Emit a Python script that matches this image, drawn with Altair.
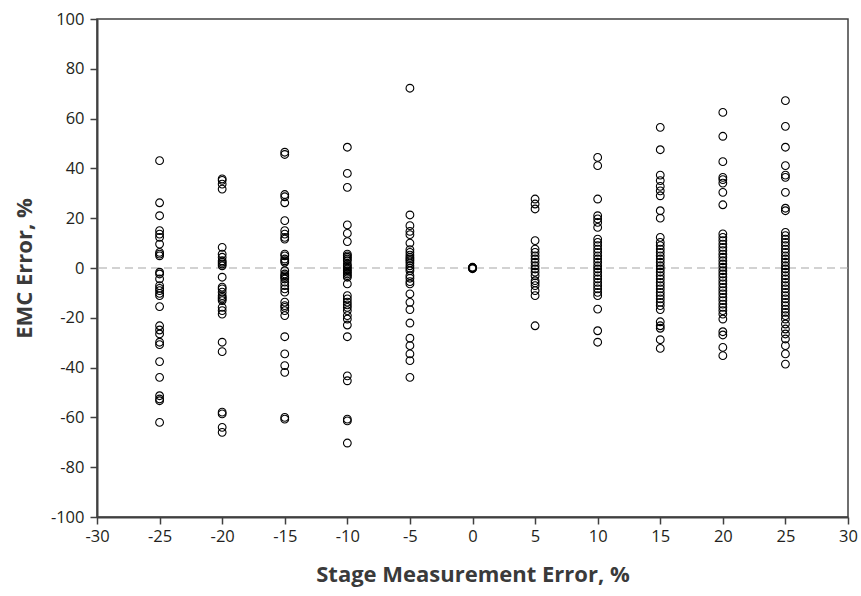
import altair as alt
import pandas as pd

stage_levels = [-25, -20, -15, -10, -5, 0, 5, 10, 15, 20, 25]

emc_m25 = [43.1, 26.2, 21, 15, 13.6, 12.3, 9.6, 6.3, 5.6, 4.9, -1.7, -2.4, -4.4, -7.1, -8.2,
           -9.1, -10.2, -11.1, -15.5, -23.2, -24.9, -26.5, -29.8, -30.8, -37.6, -43.9,
           -51.3, -52.6, -53.3, -62]
emc_m20 = [35.8, 35.2, 33.7, 31.7, 8.3, 5.6, 4.3, 2.9, 2.3, 1.6, 0.9, -3.7, -7.7, -8.4, -9.7,
           -11.1, -11.8, -12.4, -13.1, -15.8, -17.1, -18.5, -29.8, -33.6, -57.9, -58.6, -64, -66]
emc_m15 = [46.5, 45.6, 29.5, 28.6, 26.2, 19, 15, 13.6, 12.3, 11.6, 5.6, 4.9, 3.6, 2.9, 2.3,
           -1.1, -2.4, -3.1, -3.7, -4.4, -5.7, -7.1, -8.4, -9.7, -13.7, -15.1, -15.8, -17.1,
           -19.1, -27.6, -34.5, -39.2, -41.9, -60, -60.7]
emc_m10 = [48.5, 38, 32.4, 17.3, 13.9, 10.6, 5.6, 4.9, 4.3, 3.6, 2.9, 1.6, 0.9, 0.3, -0.4,
           -1.1, -1.7, -2.4, -3.1, -3.7, -6.4, -11.1, -12.4, -13.7, -14.8, -15.8, -17.1, -19.1,
           -20.5, -22.9, -27.6, -43.3, -45.3, -60.7, -61.4, -70.3]
emc_m5 = [72.2, 21.3, 17, 14.7, 13.4, 10, 7.4, 6.3, 5.2, 4.3, 3.6, 2.9, 2, 0.9, -0.1, -1.1,
          -3.1, -4.1, -5.5, -6.4, -10.4, -13.8, -16.7, -22.1, -28.2, -31.2, -34.5, -37.2, -43.9]
emc_0 = [0, 0, 0, 0.3, -0.3, 0.1]
emc_p5 = [27.7, 25.7, 23.7, 11, 7.6, 6.3, 4.9, 3.6, 2.3, 0.9, -0.4, -1.7, -3.1, -5.1, -6,
          -7.1, -9.1, -11.1, -23.2]
emc_p10 = [44.4, 41.1, 27.7, 21, 19.7, 18.3, 16.3, 11.6, 10.3, 9, 7.6, 6.3, 4.9, 3.6, 2.3,
           0.9, -0.4, -1.7, -3.1, -4.4, -5.8, -7.1, -8.4, -9.8, -11.1, -16.5, -25.2, -29.8]
emc_p15 = [56.5, 47.5, 37.3, 35.1, 32.8, 31, 29, 23, 20, 12.3, 10.3, 9, 7.6, 6.3, 4.9, 3.6,
           2.3, 0.9, -0.4, -1.7, -3.1, -4.4, -5.8, -7.1, -8.4, -9.8, -11.1, -12.4, -13.8,
           -15.1, -16.7, -21.6, -23.2, -24.2, -28.8, -32.3]
emc_p20 = [62.5, 52.9, 42.7, 36.4, 35.5, 34.1, 30.4, 25.4, 13.7, 12.3, 11, 9.6, 8.3, 7, 5.6,
           4.3, 2.9, 1.6, 0.3, -1.1, -2.4, -3.7, -5.1, -6.4, -7.8, -9.1, -10.4, -11.8, -13.1,
           -14.5, -15.8, -17.1, -18.5, -20.5, -25.6, -26.9, -31.9, -35.2]
emc_p25 = [67.2, 56.9, 48.5, 41.1, 37.3, 36.4, 30.4, 24, 23, 14.3, 13, 11.6, 10.3, 9, 7.6,
           6.3, 4.9, 3.6, 2.3, 0.9, -0.4, -1.7, -3.1, -4.4, -5.8, -7.1, -8.4, -9.8, -11.1,
           -12.4, -13.8, -15.1, -16.5, -17.8, -19.1, -20.5, -22.5, -24.5, -26.5, -28.5,
           -31.2, -34.5, -38.6]

columns = [emc_m25, emc_m20, emc_m15, emc_m10, emc_m5, emc_0, emc_p5, emc_p10, emc_p15,
           emc_p20, emc_p25]

rows = []
for s, vals in zip(stage_levels, columns):
    for v in vals:
        rows.append({"stage": s, "emc": v})
df = pd.DataFrame(rows)
zero_df = pd.DataFrame({"y0": [0]})

FONT = "Open Sans"
LABEL_EXPR = "toString(datum.value)"

x_enc = alt.X("stage:Q",
              scale=alt.Scale(domain=[-30, 30], nice=False, zero=False),
              axis=alt.Axis(title="Stage Measurement Error, %", values=list(range(-30, 31, 5)),
                            grid=False, tickSize=7, labelPadding=4, titlePadding=20,
                            labelFontSize=16.5, titleFontSize=22, labelFlush=False,
                            labelExpr=LABEL_EXPR))
y_enc = alt.Y("emc:Q",
              scale=alt.Scale(domain=[-100, 100], nice=False),
              axis=alt.Axis(title="EMC Error, %", values=list(range(-100, 101, 20)),
                            grid=False, tickSize=7, labelPadding=6, titlePadding=14,
                            labelFontSize=16.5, titleFontSize=22, labelFlush=False,
                            labelExpr=LABEL_EXPR))

zero_line = alt.Chart(zero_df).mark_rule(color="#a6a6a6", strokeDash=[8, 5], strokeWidth=1.2).encode(
    y=alt.Y("y0:Q", scale=alt.Scale(domain=[-100, 100], nice=False))
)

points = alt.Chart(df).mark_point(shape="circle", filled=False, color="black",
                                  strokeWidth=1.1, size=60, opacity=1).encode(
    x=x_enc, y=y_enc
)

chart = alt.layer(zero_line, points).properties(
    width=751, height=498,
    autosize=alt.AutoSizeParams(type="none"),
    padding={"left": 97, "top": 19, "right": 13, "bottom": 79},
).configure_view(
    stroke="#404040", strokeWidth=1.5
).configure_axis(
    domainColor="#404040", domainWidth=2, tickColor="#404040", tickWidth=1.5,
    labelFont=FONT, titleFont=FONT, labelColor="#231f20", titleColor="#3a3a3a",
    titleFontWeight="bold"
)

chart.save("out.html", embed_options={"renderer": "svg", "actions": False})
